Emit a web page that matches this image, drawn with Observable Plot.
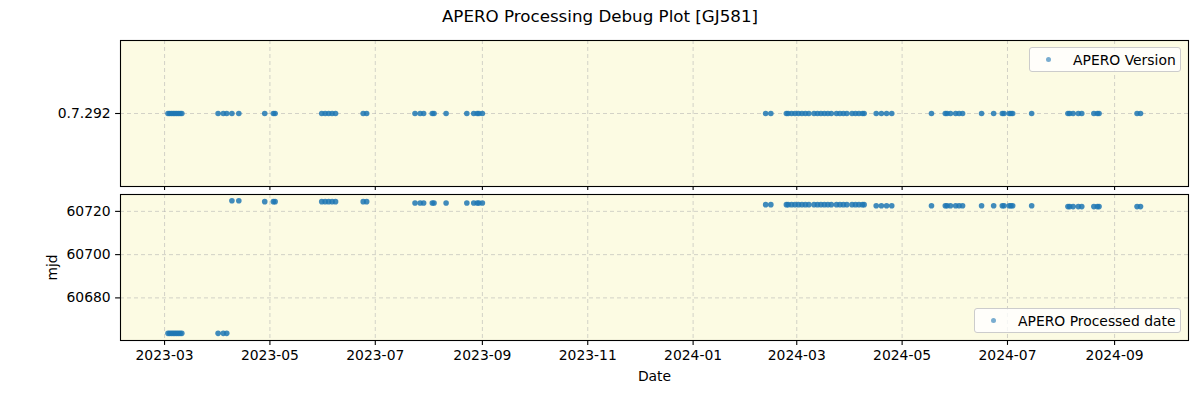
<!DOCTYPE html>
<html><head><meta charset="utf-8">
<script src="https://cdn.jsdelivr.net/npm/d3@7"></script>
<script src="https://cdn.jsdelivr.net/npm/@observablehq/plot@0.6"></script>
<style>
body{margin:0;background:#fff;font-family:"DejaVu Sans",sans-serif;}
#fig{position:relative;width:1200px;height:400px;overflow:hidden;}
#title{position:absolute;top:0;left:0;width:1200px;height:32px;text-align:center;font-size:16.7px;line-height:33px;color:#000}
#top{position:absolute;top:32px;left:0}
#bottom{position:absolute;top:190px;left:0}
.legend{position:absolute;box-sizing:border-box;background:rgba(255,255,255,0.8);border:1px solid #ccc;border-radius:3px;font-size:13.9px;height:25px;display:flex;align-items:center;padding:0 0 0 16px;color:#000}
.legend .mk{width:5px;height:5px;border-radius:50%;background:#1f77b4;opacity:0.6;margin-right:22px;flex:none}
</style></head>
<body>
<div id="fig">
  <div id="title">APERO Processing Debug Plot [GJ581]</div>
  <div id="top"></div>
  <div id="bottom"></div>
  <div class="legend" style="left:1029px;top:47px;width:152px"><span class="mk"></span>APERO Version</div>
  <div class="legend" style="left:974px;top:308px;width:207px"><span class="mk"></span>APERO Processed date</div>
</div>
<script>
// ---- data ----
const obsDates = [
  "2023-03-03","2023-03-04","2023-03-05","2023-03-06","2023-03-07","2023-03-08","2023-03-09","2023-03-10","2023-03-11",
  "2023-04-01","2023-04-04","2023-04-06",
  "2023-04-09","2023-04-13",
  "2023-04-28","2023-05-03","2023-05-04",
  "2023-05-31","2023-06-02","2023-06-04","2023-06-06","2023-06-08",
  "2023-06-24","2023-06-26",
  "2023-07-24","2023-07-27","2023-07-29","2023-08-03","2023-08-04","2023-08-11",
  "2023-08-23","2023-08-27","2023-08-29","2023-08-30","2023-09-01",
  "2024-02-12","2024-02-15",
  "2024-02-24","2024-02-25","2024-02-27","2024-02-29","2024-03-02","2024-03-04","2024-03-06","2024-03-08",
  "2024-03-11","2024-03-13","2024-03-15","2024-03-17","2024-03-19","2024-03-21","2024-03-24","2024-03-26",
  "2024-03-28","2024-03-30","2024-04-02","2024-04-04","2024-04-06","2024-04-08","2024-04-09",
  "2024-04-16","2024-04-19","2024-04-22","2024-04-25",
  "2024-05-18",
  "2024-05-26","2024-05-27","2024-05-29","2024-06-01","2024-06-03","2024-06-05",
  "2024-06-16","2024-06-23",
  "2024-06-28","2024-06-29","2024-07-02","2024-07-03","2024-07-04",
  "2024-07-15",
  "2024-08-05","2024-08-06","2024-08-08","2024-08-11","2024-08-13",
  "2024-08-20","2024-08-22","2024-08-23",
  "2024-09-14","2024-09-16"
];
const processedMjd = [
  60663.6,60663.6,60663.6,60663.6,60663.6,60663.6,60663.6,60663.6,60663.6,
  60663.6,60663.6,60663.6,
  60724.9,60724.9,
  60724.5,60724.5,60724.5,
  60724.5,60724.5,60724.5,60724.5,60724.5,
  60724.5,60724.5,
  60723.9,60723.9,60723.9,60723.9,60723.9,60723.9,
  60723.9,60723.9,60723.9,60723.9,60723.9,
  60723.1,60723.1,
  60723.1,60723.1,60723.1,60723.1,60723.1,60723.1,60723.1,60723.1,
  60723.1,60723.1,60723.1,60723.1,60723.1,60723.1,60723.1,60723.1,
  60723.1,60723.1,60723.1,60723.1,60723.1,60723.1,60723.1,
  60722.6,60722.6,60722.6,60722.6,
  60722.6,
  60722.6,60722.6,60722.6,60722.6,60722.6,60722.6,
  60722.6,60722.6,
  60722.6,60722.6,60722.6,60722.6,60722.6,
  60722.6,
  60722.2,60722.2,60722.2,60722.2,60722.2,
  60722.2,60722.2,60722.2,
  60722.2,60722.2
];
const versionLabels = ["0.7.292"];
const versionValue = "0.7.292";
const xTickDates = ["2023-03-01","2023-05-01","2023-07-01","2023-09-01","2023-11-01","2024-01-01","2024-03-01","2024-05-01","2024-07-01","2024-09-01"];
const mjdTicks = [60680, 60700, 60720];

// ---- build ----
const rows = obsDates.map((d, i) => ({date: new Date(d + "T00:00:00Z"), mjd: processedMjd[i], version: versionValue}));
const xTicks = xTickDates.map(d => new Date(d + "T00:00:00Z"));
const xDomain = [new Date("2023-02-03T12:00:00Z"), new Date("2024-10-13T19:00:00Z")];
const fmt = d3.utcFormat("%Y-%m");
const bg = "#fcfbe3";
const gridStyle = {stroke: "#b0b0b0", strokeOpacity: 0.55, strokeDasharray: "4,3", strokeWidth: 1};
const dotStyle = {r: 2.8, fill: "#1f77b4", fillOpacity: 0.85, stroke: "none"};
const common = {
  width: 1200, marginLeft: 120, marginRight: 12,
  style: {fontFamily: "DejaVu Sans", fontSize: "13.9px", background: "transparent", color: "#000"},
  x: {type: "utc", domain: xDomain}
};

const topPlot = Plot.plot({
  ...common,
  height: 158, marginTop: 8, marginBottom: 4,
  y: {type: "point", domain: versionLabels},
  marks: [
    Plot.frame({fill: bg}),
    Plot.gridX({ticks: xTicks, ...gridStyle}),
    Plot.gridY({...gridStyle}),
    Plot.dot(rows, {x: "date", y: "version", ...dotStyle}),
    Plot.axisX({ticks: xTicks, tickFormat: () => "", tickSize: 4.9, label: null, strokeWidth: 1.1}),
    Plot.axisY({tickSize: 4.9, tickPadding: 4.9, label: null, strokeWidth: 1.1}),
    Plot.frame({stroke: "#000", strokeWidth: 1.1})
  ]
});

const bottomPlot = Plot.plot({
  ...common,
  height: 210, marginTop: 4, marginBottom: 60,
  y: {domain: [60660.3, 60727.8]},
  marks: [
    Plot.frame({fill: bg}),
    Plot.gridX({ticks: xTicks, ...gridStyle}),
    Plot.gridY({ticks: mjdTicks, ...gridStyle}),
    Plot.dot(rows, {x: "date", y: "mjd", ...dotStyle}),
    Plot.axisX({ticks: xTicks, tickFormat: fmt, tickSize: 4.9, tickPadding: 4.9, label: "Date", labelAnchor: "center", labelArrow: "none", labelOffset: 40, strokeWidth: 1.1}),
    Plot.axisY({ticks: mjdTicks, tickFormat: d3.format("d"), tickSize: 4.9, tickPadding: 4.9, label: "mjd", labelAnchor: "center", labelArrow: "none", labelOffset: 73, strokeWidth: 1.1}),
    Plot.frame({stroke: "#000", strokeWidth: 1.1})
  ]
});

document.getElementById("top").appendChild(topPlot);
document.getElementById("bottom").appendChild(bottomPlot);
</script>
</body></html>
